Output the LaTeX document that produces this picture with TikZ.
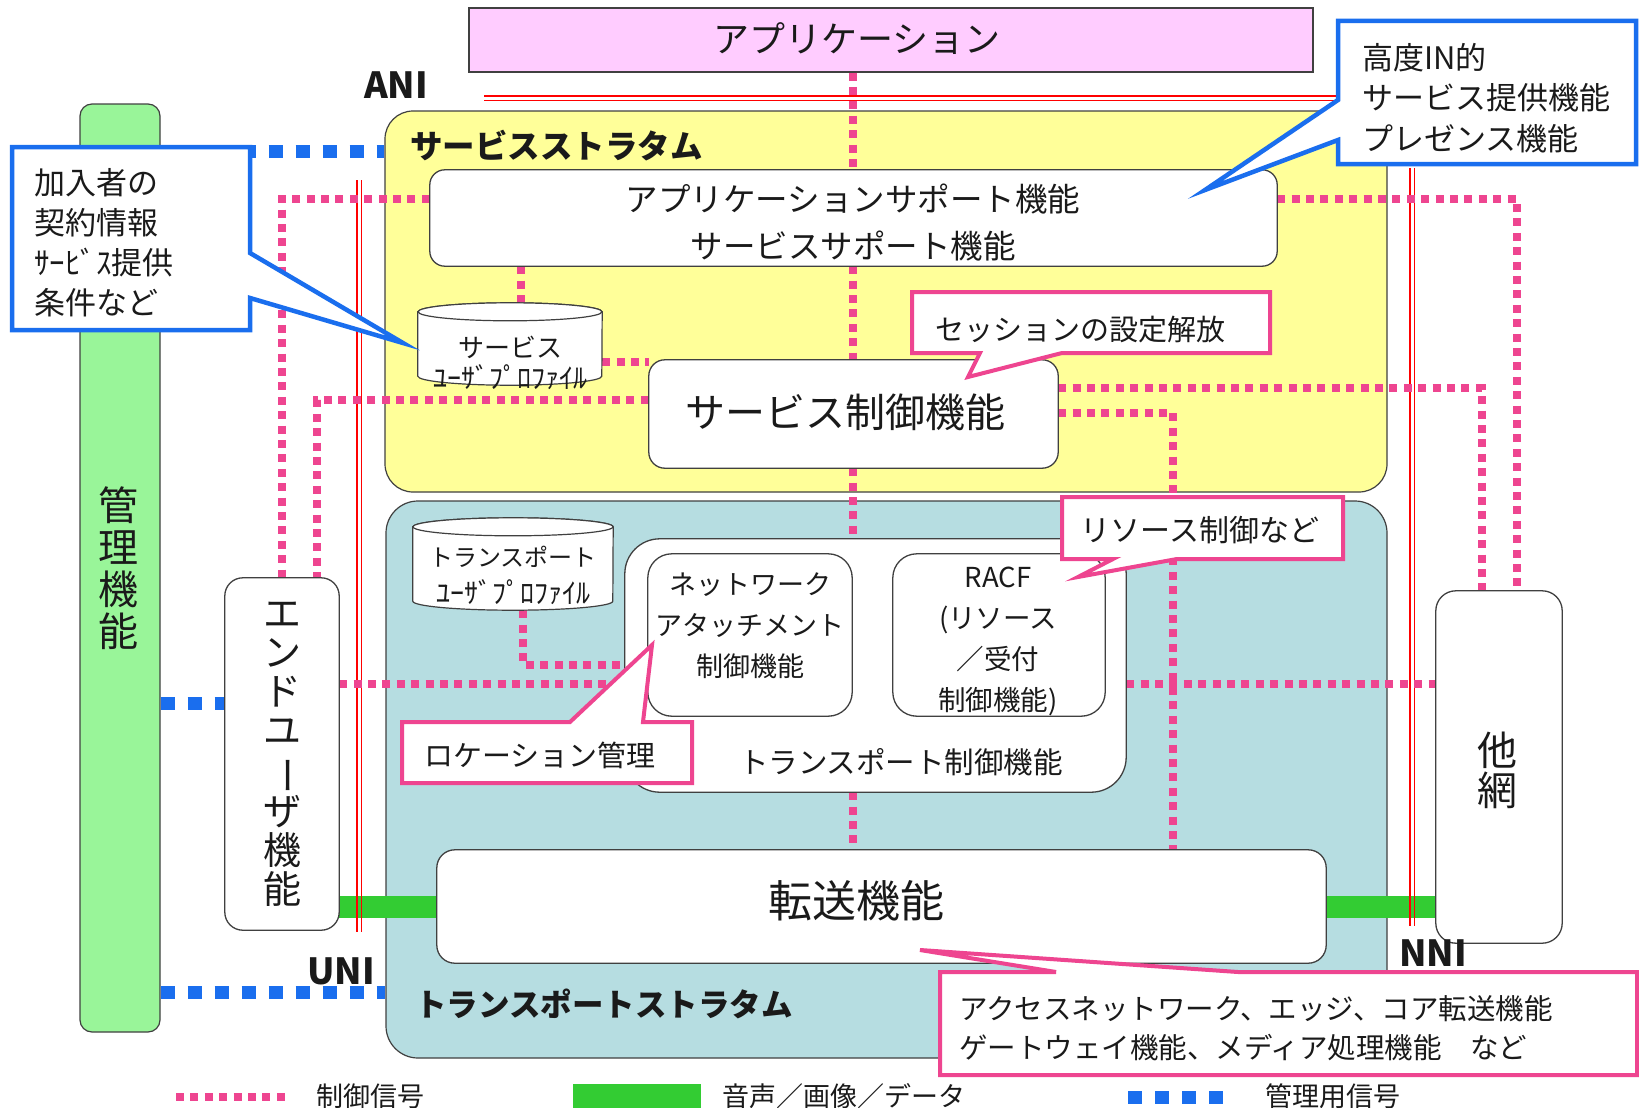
\documentclass[tikz,border=0pt]{standalone}
\usepackage{fontspec}
\usepackage{graphicx}
\setmainfont{Noto Sans CJK JP}
\usetikzlibrary{calc}
\newcommand{\jfs}[2]{\fontsize{#1pt}{#2pt}\selectfont}
\definecolor{appc}{HTML}{FFCCFF}
\definecolor{ylw}{HTML}{FFFF99}
\definecolor{tealc}{HTML}{B6DDE1}
\definecolor{mgc}{HTML}{99F599}
\definecolor{medc}{HTML}{33CC33}
\definecolor{sigc}{HTML}{EE4590}
\definecolor{bluec}{HTML}{1A6EEE}
\definecolor{edgec}{HTML}{404040}
\definecolor{txtc}{HTML}{1A1A1A}
\begin{document}
\begin{tikzpicture}[x=1pt,y=-1pt,
  every node/.style={inner sep=0pt, text=txtc},
  bg/.style={draw=edgec, line width=1.2pt},
  wbox/.style={draw=edgec, fill=white, line width=1.3pt},
  sig/.style={draw=sigc, line width=8pt, dash pattern=on 8pt off 6.4pt},
  mgt/.style={draw=bluec, line width=13pt, dash pattern=on 14pt off 13pt},
  media/.style={draw=medc, line width=22pt},
  redl/.style={draw=red, line width=1.2pt},
  cylst/.style={draw=edgec, fill=white, line width=1.2pt},
  callb/.style={draw=bluec, fill=white, line width=4.5pt, line join=miter},
  callp/.style={draw=sigc, fill=white, line width=4pt, line join=miter},
  boldlbl/.style={font=\bfseries\jfs{36}{36}},
]
\useasboundingbox (0,0) rectangle (1639,1108);

% ---------- backgrounds ----------
\node[bg, fill=appc, minimum width=844pt, minimum height=64pt] (app) at (891,40) {};
\node[bg, fill=mgc, rounded corners=12pt, minimum width=80pt, minimum height=928pt] (mgmt) at (120,568) {};
\node[bg, fill=ylw, rounded corners=28pt, minimum width=1002pt, minimum height=381pt] (sstr) at (886,301.5) {};
\node[bg, fill=tealc, rounded corners=32pt, minimum width=1001pt, minimum height=557pt] (tstr) at (886.5,779.5) {};

% named helper nodes for boxes (drawn later)
\node[minimum width=847pt, minimum height=96pt] (appsup) at (853.5,218) {};
\node[minimum width=409pt, minimum height=108pt] (sctl) at (853.5,414) {};
\node[minimum width=184pt, minimum height=82pt] (sprof) at (510,344) {};
\node[minimum width=200pt, minimum height=92pt] (tprof) at (513,564) {};
\node[minimum width=501pt, minimum height=253pt] (tctl) at (875.5,665.5) {};
\node[minimum width=204pt, minimum height=162pt] (nacf) at (750,635) {};
\node[minimum width=212pt, minimum height=162pt] (racf) at (999,635) {};
\node[minimum width=889pt, minimum height=113pt] (xfer) at (881.5,906.5) {};
\node[minimum width=114pt, minimum height=352pt] (enduser) at (282,754) {};
\node[minimum width=126pt, minimum height=352pt] (other) at (1499,767) {};
\coordinate (cx) at (853,0);

% ---------- media (voice/video/data) ----------
\draw[media] (enduser.east |- xfer.west) -- (xfer.west);
\draw[media] (xfer.east) -- (xfer.east -| other.west);

% ---------- interface red double lines ----------
\draw[redl] (484,96) -- (1338,96);
\draw[redl] (484,100.5) -- (1338,100.5);
\draw[redl] (357,180) -- (357,932);
\draw[redl] (361.5,180) -- (361.5,932);
\draw[redl] (1410,168) -- (1410,926);
\draw[redl] (1414.5,168) -- (1414.5,926);

% ---------- management signals ----------
\draw[mgt] (mgmt.east |- 0,151) -- (sstr.west |- 0,151);
\draw[mgt] (mgmt.east |- 0,703) -- (enduser.west |- 0,703);
\draw[mgt] (mgmt.east |- 0,992) -- (tstr.west |- 0,992);

% ---------- control signals ----------
\draw[sig] (app.south -| cx) -- (appsup.north -| cx);
\draw[sig] (appsup.south -| cx) -- (sctl.north -| cx);
\draw[sig] (sctl.south -| cx) -- (tctl.north -| cx);
\draw[sig] (tctl.south -| cx) -- (xfer.north -| cx);
\draw[sig] (appsup.west |- 0,199) -| (enduser.north -| 282,0);
\draw[sig] (sctl.west |- 0,400) -| (enduser.north -| 317,0);
\draw[sig] (appsup.south -| 521,0) -- (sprof.north -| 521,0);
\draw[sig] (sprof.east |- 0,362) -- (sctl.west |- 0,362);
\draw[sig] (tprof.south -| 523,0) |- (tctl.west |- 0,665);
\draw[sig] (enduser.east |- 0,684) -- (tctl.west |- 0,684);
\draw[sig] (nacf.east |- 0,608) -- (racf.west |- 0,608);
\draw[sig] (tctl.east |- 0,684) -- (other.west |- 0,684);
\draw[sig] (sctl.east |- 0,413) -| (xfer.north -| 1173,0);
\draw[sig] (sctl.east |- 0,388) -| (other.north -| 1482,0);
\draw[sig] (appsup.east |- 0,199) -| (other.north -| 1517,0);

% ---------- white function boxes ----------
\draw[wbox, rounded corners=15pt] (appsup.north west) rectangle (appsup.south east);
\draw[wbox, rounded corners=16pt] (sctl.north west) rectangle (sctl.south east);
\draw[wbox, rounded corners=35pt] (tctl.north west) rectangle (tctl.south east);
\draw[wbox, rounded corners=24pt] (nacf.north west) rectangle (nacf.south east);
\draw[wbox, rounded corners=24pt] (racf.north west) rectangle (racf.south east);
\draw[wbox, rounded corners=18pt] (xfer.north west) rectangle (xfer.south east);
\draw[wbox, rounded corners=18pt] (enduser.north west) rectangle (enduser.south east);
\draw[wbox, rounded corners=20pt] (other.north west) rectangle (other.south east);

% cylinders (user profiles)
\filldraw[cylst] ([yshift=-9pt]sprof.north west) -- ([yshift=9pt]sprof.south west)
  arc[start angle=180,end angle=360,x radius=92pt,y radius=9pt]
  -- ([yshift=-9pt]sprof.north east)
  arc[start angle=0,end angle=180,x radius=92pt,y radius=9pt] -- cycle;
\draw[cylst] ([yshift=-9pt]sprof.north) ellipse[x radius=92pt,y radius=9pt];
\filldraw[cylst] ([yshift=-9pt]tprof.north west) -- ([yshift=9pt]tprof.south west)
  arc[start angle=180,end angle=360,x radius=100pt,y radius=9pt]
  -- ([yshift=-9pt]tprof.north east)
  arc[start angle=0,end angle=180,x radius=100pt,y radius=9pt] -- cycle;
\draw[cylst] ([yshift=-9pt]tprof.north) ellipse[x radius=100pt,y radius=9pt];

% ---------- callouts ----------
\path[callb] (12,147) -- (250,147) -- (250,253) -- (403,343) -- (250,298) -- (250,330) -- (12,330) -- cycle;
\path[callb] (1338,21) -- (1636,21) -- (1636,164) -- (1338,164) -- (1338,140) -- (1205,190) -- (1338,100) -- cycle;
\path[callp] (912,292) -- (1270,292) -- (1270,353) -- (1062,353) -- (968,377) -- (980,353) -- (912,353) -- cycle;
\path[callp] (1062,497) -- (1343,497) -- (1343,559) -- (1177,559) -- (1078,577) -- (1113,559) -- (1062,559) -- cycle;
\path[callp] (402,722) -- (570,722) -- (652,645) -- (643,722) -- (692,722) -- (692,783) -- (402,783) -- cycle;
\path[callp] (940,972) -- (1056,972) -- (920,950) -- (1238,972) -- (1637,972) -- (1637,1075) -- (940,1075) -- cycle;

% ---------- texts ----------
\node[font=\jfs{36}{36}] (tapp) at (857,39) {アプリケーション};
\node[boldlbl] (ani) at (396,85) {ANI};
\node[boldlbl] (uni) at (341,971) {UNI};
\node[boldlbl] (nni) at (1433,953) {NNI};
\node[anchor=west, font=\bfseries\jfs{32.5}{32.5}] (sstrl) at (410,146) {サービスストラタム};
\node[anchor=west, font=\bfseries\jfs{31.5}{31.5}] (tstrl) at (415,1004) {トランスポートストラタム};

\node[align=center, font=\jfs{32.5}{47}] (tappsup) at (853,222.5) {アプリケーションサポート機能\\サービスサポート機能};
\node[font=\jfs{40}{40}] (tsctl) at (845,412) {サービス制御機能};
\node[font=\jfs{44}{44}] (txfer) at (856,901) {転送機能};
\node[font=\jfs{29.5}{29.5}] (ttctl) at (901,762) {トランスポート制御機能};
\node[align=center, font=\jfs{27}{41}] (tnacf) at (750,626) {ネットワーク\\アタッチメント\\制御機能};
\node[align=center, font=\jfs{27.5}{41}] (tracf) at (998,641.5) {RACF\\(リソース\\／受付\\制御機能)};

\node[font=\jfs{26}{26}] (tsprof1) at (510,347) {サービス};
\node[font=\jfs{28}{28}] (tsprof2) at (510,377) {ﾕｰｻﾞﾌﾟﾛﾌｧｲﾙ};
\node[font=\jfs{24}{24}] (ttprof1) at (513,557) {トランスポート};
\node[font=\jfs{28}{28}] (ttprof2) at (513,592) {ﾕｰｻﾞﾌﾟﾛﾌｧｲﾙ};

\node[align=center, font=\jfs{40}{42}] (tmgmt) at (118,568) {管\\理\\機\\能};
\node[align=center, font=\jfs{38}{39}] (tend) at (282,754) {エ\\ン\\ド\\ユ\\\rotatebox[origin=c]{-90}{ー}\\ザ\\機\\能};
\node[align=center, font=\jfs{40}{40}] (tother) at (1497,770) {他\\網};

\node[anchor=west, align=left, font=\jfs{31}{40}] (tcl1) at (34,243) {加入者の\\契約情報\\ｻｰﾋﾞｽ提供\\条件など};
\node[anchor=west, align=left, font=\jfs{31}{40.5}] (tcl2) at (1362,98) {高度IN的\\サービス提供機能\\プレゼンス機能};
\node[font=\jfs{29}{29}] (tcl3) at (1080,330) {セッションの設定解放};
\node[font=\jfs{30}{30}] (tcl4) at (1200,530) {リソース制御など};
\node[font=\jfs{29}{29}] (tcl5) at (540,755) {ロケーション管理};
\node[anchor=west, align=left, font=\jfs{28.5}{39}] (tcl6) at (959,1028) {アクセスネットワーク、エッジ、コア転送機能\\ゲートウェイ機能、メディア処理機能　など};

% ---------- legend ----------
\node[anchor=west, font=\jfs{27}{27}] (lg1) at (316,1096) {制御信号};
\node[anchor=west, font=\jfs{27}{27}] (lg2) at (722,1096) {音声／画像／データ};
\node[anchor=west, font=\jfs{27}{27}] (lg3) at (1265,1096) {管理用信号};
\draw[sig] ($(lg1.west)+(-140,1)$) -- ($(lg1.west)+(-25,1)$);
\fill[medc] ($(lg2.west)+(-149,-12)$) rectangle ($(lg2.west)+(-21,13)$);
\draw[mgt] ($(lg3.west)+(-137,1)$) -- ($(lg3.west)+(-29,1)$);
\end{tikzpicture}
\end{document}
